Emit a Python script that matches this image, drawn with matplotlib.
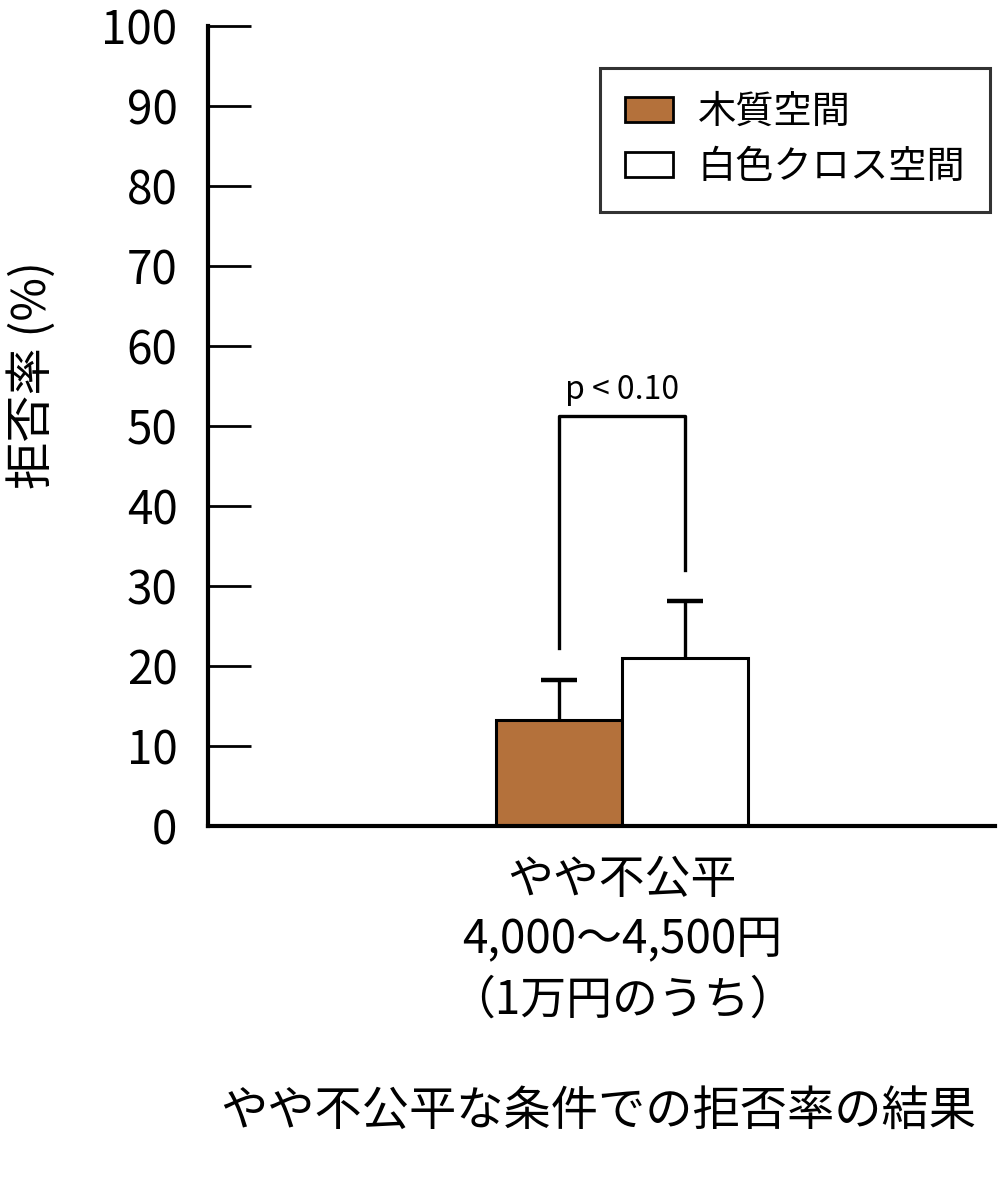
import matplotlib
matplotlib.use("Agg")
import matplotlib.pyplot as plt
from matplotlib.patches import Patch

plt.rcParams['font.family'] = ['Noto Sans CJK JP', 'DejaVu Sans']

# data
series = ["木質空間", "白色クロス空間"]
values = [13.2, 21.0]
errors = [5.1, 7.1]
colors = ["#B4713B", "#FFFFFF"]
category_lines = ["やや不公平", "4,000〜4,500円", "（1万円のうち）"]
bracket_top = 51.2
bracket_feet = [22.2, 32.0]
p_text = "p < 0.10"

fig = plt.figure(figsize=(10, 11.9), dpi=100)
ax = fig.add_axes([0.208, 0.306, 0.787, 0.672])

width = 0.4
xs = [-width / 2, width / 2]
tops = [v + e for v, e in zip(values, errors)]
ax.bar(xs, values, width=width, color=colors, edgecolor="black", linewidth=2.2,
       zorder=2)
# upper error bars only
ax.vlines(xs, values, tops, color="black", linewidth=2.4, zorder=1)
ax.plot(xs, tops, linestyle="none", marker="_", markersize=26,
        markeredgewidth=3.2, color="black")

# significance bracket
ax.plot([xs[0], xs[0], xs[1], xs[1]],
        [bracket_feet[0], bracket_top, bracket_top, bracket_feet[1]],
        color="black", linewidth=2.4)
ax.text(0, bracket_top + 1.3, p_text, ha="center", va="bottom", fontsize=23)

ax.set_xlim(-1.314, 1.184)
ax.set_ylim(0, 100)
ax.set_yticks(range(0, 101, 10))
ax.set_xticks([])
ax.tick_params(axis="y", direction="in", length=31, width=2, labelsize=33, pad=22)
ax.spines["top"].set_visible(False)
ax.spines["right"].set_visible(False)
ax.spines["left"].set_linewidth(3)
ax.spines["bottom"].set_linewidth(3)

fig.text(0.032, 0.685, "拒否率 (%)", rotation=90, ha="center", va="center",
         fontsize=34)

for i, line in enumerate(category_lines):
    fig.text(0.622, 1 - (880 + 60 * i) / 1190, line, ha="center", va="center",
             fontsize=33)

fig.text(0.598, 1 - 1112 / 1190, "やや不公平な条件での拒否率の結果",
         ha="center", va="center", fontsize=34)

handles = [Patch(facecolor=c, edgecolor="black", linewidth=2) for c in colors]
leg = ax.legend(handles, series, loc="upper right",
                bbox_to_anchor=(0.9937, 0.9475), borderaxespad=0,
                fontsize=27.5, frameon=True, fancybox=False, edgecolor="black",
                handlelength=1.25, handleheight=0.65, borderpad=0.65,
                labelspacing=0.42, handletextpad=0.65)
leg.get_frame().set_linewidth(2.2)

fig.savefig("out.png", dpi=100)
